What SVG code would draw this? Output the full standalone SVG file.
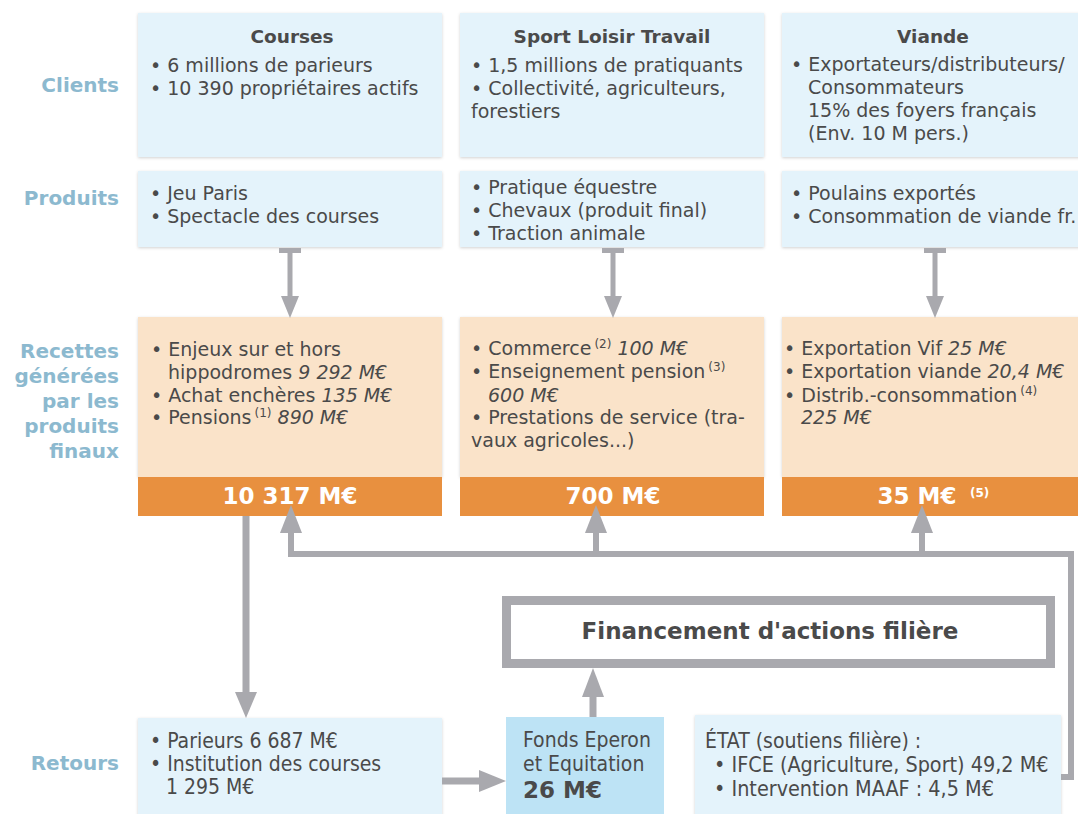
<svg xmlns="http://www.w3.org/2000/svg" width="1078" height="814" viewBox="0 0 1078 814">
<style>
text{font-family:"DejaVu Sans",Verdana,sans-serif;fill:#4a4a4a;font-size:19px}
.lbl{font-weight:bold;fill:#8cb9cf;font-size:20px;text-anchor:end}
.hd{font-weight:bold;font-size:18.5px;text-anchor:middle}
.tot{font-weight:bold;fill:#fff;font-size:23px;text-anchor:middle}
.it{font-style:italic}
.sup{font-size:12px}
.cd{font-family:"DejaVu Sans Condensed","DejaVu Sans",sans-serif;font-size:21px}
.big{font-weight:bold;font-size:23px}
.blue{fill:#e4f3fb}
.peach{fill:#fae3c9}
.orange{fill:#e8903f}
.arr{stroke:#a9a9ae;fill:none}
.head{fill:#a9a9ae}
</style>
<defs>
<filter id="sh" x="-5%" y="-5%" width="110%" height="115%">
<feDropShadow dx="0" dy="1" stdDeviation="1.5" flood-color="#000" flood-opacity="0.18"/>
</filter>
</defs>

<g id="labels">
<text class="lbl" x="119" y="92">Clients</text>
<text class="lbl" x="119" y="205">Produits</text>
<text class="lbl" x="119" y="358">Recettes</text>
<text class="lbl" x="119" y="383">générées</text>
<text class="lbl" x="119" y="408">par les</text>
<text class="lbl" x="119" y="433">produits</text>
<text class="lbl" x="119" y="458">finaux</text>
<text class="lbl" x="119" y="770">Retours</text>
</g>

<g id="clients-courses">
<rect class="blue" x="138" y="13" width="304" height="144" filter="url(#sh)"/>
<text class="hd" x="292" y="43">Courses</text>
<text x="150" y="72">• 6 millions de parieurs</text>
<text x="150" y="95">• 10 390 propriétaires actifs</text>
</g>
<g id="clients-sport">
<rect class="blue" x="460" y="13" width="304" height="144" filter="url(#sh)"/>
<text class="hd" x="612" y="43">Sport Loisir Travail</text>
<text x="471" y="72">• 1,5 millions de pratiquants</text>
<text x="471" y="95">• Collectivité, agriculteurs,</text>
<text x="471" y="118">forestiers</text>
</g>
<g id="clients-viande">
<rect class="blue" x="782" y="13" width="306" height="144" filter="url(#sh)"/>
<text class="hd" x="933" y="43">Viande</text>
<text x="791" y="71">• Exportateurs/distributeurs/</text>
<text x="808" y="94">Consommateurs</text>
<text x="808" y="117">15% des foyers français</text>
<text x="808" y="140">(Env. 10 M pers.)</text>
</g>

<g id="produits-courses">
<rect class="blue" x="138" y="171" width="304" height="76" filter="url(#sh)"/>
<text x="150" y="200">• Jeu Paris</text>
<text x="150" y="223">• Spectacle des courses</text>
</g>
<g id="produits-sport">
<rect class="blue" x="460" y="171" width="304" height="76" filter="url(#sh)"/>
<text x="471" y="194">• Pratique équestre</text>
<text x="471" y="217">• Chevaux (produit final)</text>
<text x="471" y="240">• Traction animale</text>
</g>
<g id="produits-viande">
<rect class="blue" x="782" y="171" width="306" height="76" filter="url(#sh)"/>
<text x="791" y="200">• Poulains exportés</text>
<text x="791" y="223">• Consommation de viande fr.</text>
</g>

<g id="recettes-courses">
<rect class="peach" x="138" y="317" width="304" height="160" filter="url(#sh)"/>
<rect class="orange" x="138" y="477" width="304" height="39"/>
<text x="151" y="356">• Enjeux sur et hors</text>
<text x="168" y="379">hippodromes <tspan class="it">9 292 M€</tspan></text>
<text x="151" y="402">• Achat enchères <tspan class="it">135 M€</tspan></text>
<text x="151" y="424">• Pensions<tspan class="sup" dx="3" dy="-7">(1)</tspan><tspan dy="7"> </tspan><tspan class="it">890 M€</tspan></text>
<text class="tot" x="290" y="504">10 317 M€</text>
</g>
<g id="recettes-sport">
<rect class="peach" x="460" y="317" width="304" height="160" filter="url(#sh)"/>
<rect class="orange" x="460" y="477" width="304" height="39"/>
<text x="471" y="355">• Commerce<tspan class="sup" dx="3" dy="-7">(2)</tspan><tspan dy="7"> </tspan><tspan class="it">100 M€</tspan></text>
<text x="471" y="378">• Enseignement pension<tspan class="sup" dx="3" dy="-7">(3)</tspan></text>
<text class="it" x="488" y="402">600 M€</text>
<text x="471" y="424">• Prestations de service (tra-</text>
<text x="471" y="447">vaux agricoles...)</text>
<text class="tot" x="613" y="504">700 M€</text>
</g>
<g id="recettes-viande">
<rect class="peach" x="782" y="317" width="306" height="160" filter="url(#sh)"/>
<rect class="orange" x="782" y="477" width="306" height="39"/>
<text x="784" y="355">• Exportation Vif <tspan class="it">25 M€</tspan></text>
<text x="784" y="378">• Exportation viande <tspan class="it">20,4 M€</tspan></text>
<text x="784" y="402">• Distrib.-consommation<tspan class="sup" dx="3" dy="-7">(4)</tspan></text>
<text class="it" x="801" y="424">225 M€</text>
<text class="tot" x="917" y="504">35 M€</text>
<text class="sup" x="970" y="497" style="fill:#fff;font-weight:bold">(5)</text>
</g>

<g id="financement">
<rect x="506.5" y="600.5" width="544" height="63" fill="#fff" stroke="#a9a9ae" stroke-width="9"/>
<text class="big" x="770" y="639" text-anchor="middle">Financement d'actions filière</text>
</g>

<g id="retours">
<rect class="blue" x="138" y="718" width="304" height="110" filter="url(#sh)"/>
<text class="cd" x="150" y="748">• Parieurs 6 687 M€</text>
<text class="cd" x="150" y="771">• Institution des courses</text>
<text class="cd" x="166" y="794">1 295 M€</text>
</g>
<g id="fonds">
<rect x="506" y="717" width="158" height="110" fill="#bde3f5"/>
<text class="cd" x="523" y="747">Fonds Eperon</text>
<text class="cd" x="523" y="771">et Equitation</text>
<text class="big" x="523" y="798">26 M€</text>
</g>
<g id="etat">
<rect class="blue" x="695" y="715" width="366" height="112" filter="url(#sh)"/>
<text class="cd" x="705" y="748">ÉTAT (soutiens filière) :</text>
<text class="cd" x="714" y="772" style="font-size:21.4px">• IFCE (Agriculture, Sport) 49,2 M€</text>
<text class="cd" x="714" y="796" style="font-size:21.4px">• Intervention MAAF : 4,5 M€</text>
</g>

<g id="connectors">
<path class="arr" stroke-width="5" d="M279 250.5H301M290 250V298"/>
<polygon class="head" points="281,296 299,296 290,318"/>
<path class="arr" stroke-width="5" d="M602 250.5H624M613 250V298"/>
<polygon class="head" points="604,296 622,296 613,318"/>
<path class="arr" stroke-width="5" d="M924 250.5H946M935 250V298"/>
<polygon class="head" points="926,296 944,296 935,318"/>
<path class="arr" stroke-width="7" d="M246 516V695"/>
<polygon class="head" points="235,692 257,692 246,718"/>
<path class="arr" stroke-width="6" d="M1061 777H1071V554H291V530M596 554V530M922 554V530"/>
<polygon class="head" points="280,533 302,533 291,505"/>
<polygon class="head" points="585,533 607,533 596,505"/>
<polygon class="head" points="911,533 933,533 922,505"/>
<path class="arr" stroke-width="7" d="M442 781H482"/>
<polygon class="head" points="479,770 479,792 506,781"/>
<path class="arr" stroke-width="7" d="M593 717V694"/>
<polygon class="head" points="582,697 604,697 593,668"/>
</g>
</svg>
